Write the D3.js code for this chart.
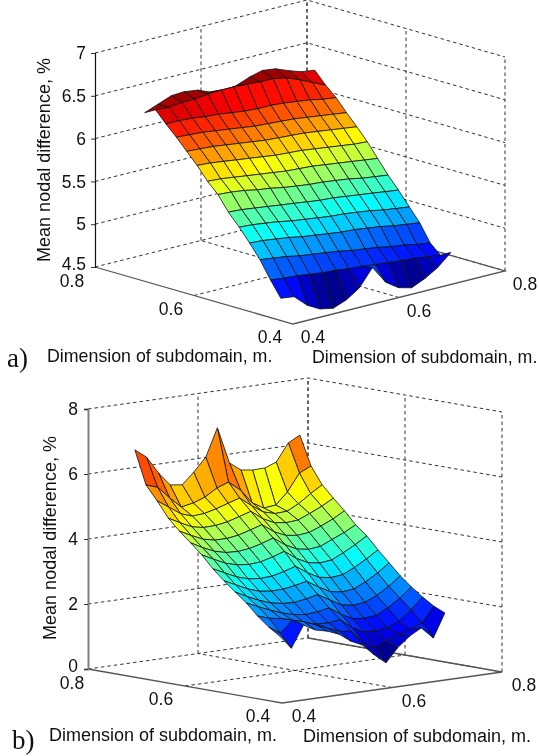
<!DOCTYPE html>
<html>
<head>
<meta charset="utf-8">
<script src="https://cdn.jsdelivr.net/npm/d3@7"></script>
<style>
  body { margin: 0; background: #fff; }
  svg { display: block; font-family: "Liberation Sans", Arial, sans-serif; fill: #111; filter: blur(0.3px); }
</style>
</head>
<body>
<svg id="chart" width="539" height="756"></svg>
<script>
// subdomain sizes along the two floor axes, panel a
var uA = [.460,.481,.502,.523,.544,.566,.587,.608,.629,.650,.671,.692,.713,.735];
var vA = [.433,.458,.483,.507,.532,.557,.581,.606,.631,.655,.680,.705,.729,.754];
// mean nodal difference, one row per uA value
var zA = [
  [4.65,4.63,4.49,4.41,4.38,4.44,4.54,4.74,4.53,4.43,4.39,4.46,4.55,4.69],
  [4.83,4.81,4.80,4.78,4.76,4.75,4.73,4.72,4.70,4.69,4.67,4.66,4.64,4.62],
  [5.03,5.01,4.99,4.96,4.94,4.92,4.90,4.87,4.85,4.83,4.80,4.78,4.75,4.73],
  [5.19,5.18,5.16,5.14,5.11,5.09,5.07,5.05,5.04,5.02,5.00,4.97,4.95,4.93],
  [5.34,5.33,5.31,5.29,5.26,5.24,5.22,5.20,5.19,5.17,5.15,5.12,5.10,5.08],
  [5.48,5.47,5.45,5.43,5.41,5.39,5.37,5.35,5.34,5.32,5.30,5.28,5.26,5.24],
  [5.65,5.64,5.62,5.59,5.57,5.54,5.52,5.50,5.49,5.47,5.45,5.42,5.40,5.38],
  [5.77,5.76,5.74,5.72,5.70,5.68,5.66,5.65,5.64,5.62,5.60,5.58,5.56,5.54],
  [5.92,5.91,5.89,5.87,5.85,5.83,5.81,5.80,5.79,5.77,5.75,5.73,5.71,5.70],
  [6.05,6.04,6.03,6.01,5.99,5.97,5.95,5.94,5.93,5.92,5.90,5.88,5.86,5.84],
  [6.18,6.17,6.16,6.14,6.12,6.10,6.08,6.07,6.06,6.05,6.03,6.01,5.99,5.97],
  [6.30,6.30,6.29,6.27,6.26,6.24,6.22,6.21,6.21,6.20,6.18,6.16,6.13,6.11],
  [6.43,6.42,6.44,6.44,6.46,6.47,6.47,6.46,6.45,6.45,6.42,6.36,6.29,6.22],
  [6.36,6.42,6.48,6.49,6.47,6.41,6.38,6.41,6.47,6.51,6.49,6.43,6.38,6.36]
];
var zTicksA = [4.5, 5, 5.5, 6, 6.5, 7];

// panel b
var uB = [.452,.475,.498,.521,.544,.567,.590,.613,.636,.659,.682,.705,.728,.751];
var vB = [.442,.463,.485,.506,.528,.549,.571,.592,.614,.635,.656,.678,.699,.721,.742];
var zB = [
  [1.82,1.40,2.06,1.86,1.77,1.63,1.36,1.19,0.83,0.54,0.95,1.26,1.46,1.10,1.82],
  [2.04,1.80,2.15,2.05,1.90,1.75,1.60,1.55,1.15,0.95,1.10,1.25,1.35,1.50,1.97],
  [2.32,2.20,2.14,2.02,1.90,1.82,1.80,1.85,1.55,1.38,1.35,1.40,1.55,1.85,2.19],
  [2.66,2.50,2.34,2.20,2.10,2.05,2.08,2.15,1.90,1.72,1.68,1.72,1.90,2.15,2.44],
  [2.94,2.75,2.58,2.45,2.38,2.36,2.42,2.50,2.28,2.08,2.02,2.06,2.22,2.45,2.72],
  [3.22,3.05,2.87,2.75,2.70,2.71,2.77,2.85,2.62,2.43,2.37,2.41,2.58,2.80,3.06],
  [3.53,3.36,3.18,3.07,3.03,3.05,3.14,3.25,3.00,2.81,2.75,2.79,2.96,3.17,3.40],
  [3.90,3.72,3.54,3.44,3.40,3.43,3.53,3.65,3.38,3.20,3.14,3.18,3.35,3.55,3.77],
  [4.21,4.02,3.85,3.76,3.74,3.78,3.88,4.00,3.74,3.56,3.50,3.54,3.70,3.86,4.05],
  [4.51,4.33,4.16,4.08,4.08,4.13,4.24,4.35,4.08,3.92,3.87,3.91,4.05,4.22,4.42],
  [4.85,4.66,4.48,4.41,4.42,4.48,4.59,4.70,4.42,4.25,4.20,4.23,4.38,4.55,4.75],
  [5.32,5.08,4.82,4.70,4.73,4.82,4.94,5.05,4.76,4.52,4.42,4.44,4.62,4.88,5.10],
  [5.75,5.63,5.25,4.92,4.99,5.12,5.35,5.48,5.18,4.74,4.53,4.57,4.92,5.45,5.62],
  [6.77,6.50,5.96,5.54,5.49,5.83,6.24,7.09,5.96,5.69,5.64,5.65,5.78,6.32,6.51]
];
var zTicksB = [0, 2, 4, 6, 8];

var floorTicks = [0.4, 0.6, 0.8];
var zTitle = "Mean nodal difference, %";
var floorTitle = "Dimension of subdomain, m.";

var svg = d3.select("#chart");

// matlab jet
var jet = d3.scaleLinear()
  .domain([0, .11, .365, .62, .87, 1])
  .range(["#00008f", "#0000ff", "#00ffff", "#ffff00", "#ff0000", "#800000"]);

function drawPanel(p) {
  var g = svg.append("g");

  // the box is an oblique view: each axis gets its own pixel scale
  var uX = d3.scaleLinear().domain([.4, .8]).range([0, p.left[0] - p.front[0]]);
  var uY = d3.scaleLinear().domain([.4, .8]).range([0, p.left[1] - p.front[1]]);
  var vX = d3.scaleLinear().domain([.4, .8]).range([0, p.right[0] - p.front[0]]);
  var vY = d3.scaleLinear().domain([.4, .8]).range([0, p.right[1] - p.front[1]]);
  var zY = d3.scaleLinear().domain(p.zDomain).range([0, -p.height]);

  var zMin = p.zDomain[0], zMax = p.zDomain[1];
  var project = function(u, v, z) {
    return [p.front[0] + uX(u) + vX(v), p.front[1] + uY(u) + vY(v) + zY(z)];
  };
  var line = d3.line();

  // dashed walls and floor grid
  var grid = [];
  p.zTicks.forEach(function(t) {
    grid.push([project(.8, .4, t), project(.8, .8, t), project(.4, .8, t)]);
  });
  floorTicks.slice(1).forEach(function(t) {
    grid.push([project(.8, t, zMin), project(.8, t, zMax)]);
    grid.push([project(t, .8, zMin), project(t, .8, zMax)]);
  });
  grid.push([project(.4, .8, zMin), project(.4, .8, zMax)]);
  grid.push([project(.6, .4, zMin), project(.6, .8, zMin)]);
  grid.push([project(.4, .6, zMin), project(.8, .6, zMin)]);
  g.selectAll("path.grid").data(grid).join("path")
    .attr("class", "grid")
    .attr("d", line)
    .attr("fill", "none")
    .attr("stroke", "#333")
    .attr("stroke-width", 1)
    .attr("stroke-dasharray", "3.5,3");

  // solid box edges
  g.append("path")
    .attr("d", line([project(.8, .4, zMin), project(.4, .4, zMin), project(.4, .8, zMin), project(.8, .8, zMin)]))
    .attr("fill", "none")
    .attr("stroke", "#555")
    .attr("stroke-width", 1.3);

  // surface, far cells first
  var zData = p.z, cells = [];
  d3.range(p.u.length - 1).forEach(function(i) {
    d3.range(p.v.length - 1).forEach(function(j) {
      cells.push({i: i, j: j});
    });
  });
  cells.sort(function(a, b) { return d3.descending(a.i + a.j, b.i + b.j); });
  var cExtent = d3.extent(zData.flat());
  var tone = d3.scaleLinear().domain(cExtent).range([0, 1]);

  g.selectAll("path.cell").data(cells).join("path")
    .attr("class", "cell")
    .attr("d", function(d) {
      var c = [[d.i, d.j], [d.i + 1, d.j], [d.i + 1, d.j + 1], [d.i, d.j + 1]];
      return line(c.map(function(n) { return project(p.u[n[0]], p.v[n[1]], zData[n[0]][n[1]]); })) + "Z";
    })
    .attr("fill", function(d) { return jet(tone(zData[d.i][d.j])); })
    .attr("stroke", "#111")
    .attr("stroke-width", 0.8)
    .attr("stroke-linejoin", "round");

  // z axis
  var zAbs = d3.scaleLinear().domain(p.zDomain).range([p.left[1], p.left[1] - p.height]);
  var axis = g.append("g")
    .attr("transform", "translate(" + p.left[0] + ",0)")
    .call(d3.axisLeft(zAbs).tickValues(p.zTicks).tickSize(4).tickPadding(p.zPad).tickFormat(d3.format("")));
  axis.selectAll("text").attr("font-size", 17.5).attr("font-family", "Liberation Sans").attr("fill", "#111");
  // lowest label sits a little above its tick, clear of the 0.8 below it
  axis.selectAll("text").filter(function(d) { return d === zMin; }).attr("y", -3);
  axis.select(".domain").attr("stroke", p.axisColor).attr("stroke-width", p.axisWidth);
  axis.selectAll(".tick line").attr("stroke", "#333");

  // floor tick labels, placed from the same projection
  floorTicks.forEach(function(t, k) {
    var a = project(t, .4, zMin), b = project(.4, t, zMin);
    g.append("text").attr("x", a[0] + p.uLabel[k]).attr("y", a[1] + 19 + (t === .8 ? 1 : 0))
      .attr("text-anchor", "middle").attr("font-size", 17.5).text(d3.format(".1f")(t));
    g.append("text").attr("x", b[0] + p.vLabel).attr("y", b[1] + 19)
      .attr("text-anchor", "middle").attr("font-size", 17.5).text(d3.format(".1f")(t));
  });

  g.append("text")
    .attr("transform", "translate(" + p.zTitle[0] + "," + p.zTitle[1] + ") rotate(-90)")
    .attr("text-anchor", "middle").attr("font-size", 18).text(zTitle);
  g.append("text").attr("x", p.title1[0]).attr("y", p.title1[1]).attr("font-size", p.titleSize).text(floorTitle);
  g.append("text").attr("x", p.title2[0]).attr("y", p.title2[1]).attr("font-size", p.titleSize).text(floorTitle);
  g.append("text").attr("x", p.tag[0]).attr("y", p.tag[1])
    .attr("font-family", "Liberation Serif").attr("font-size", 27).text(p.tagText);
}

drawPanel({
  u: uA, v: vA, z: zA, zTicks: zTicksA, zDomain: [4.5, 7],
  front: [293, 324], left: [95, 267], right: [505, 271], height: 214,
  axisColor: "#111", axisWidth: 1.2, zPad: 5,
  uLabel: [-23, -23, -23], vLabel: 20,
  zTitle: [50, 160], titleSize: 17.8, title1: [47, 362], title2: [312, 363], tag: [7, 367], tagText: "a)"
});

drawPanel({
  u: uB, v: vB, z: zB, zTicks: zTicksB, zDomain: [0, 8],
  front: [282, 703], left: [88, 669], right: [502, 672], height: 260,
  axisColor: "#808080", axisWidth: 2, zPad: 6,
  uLabel: [-24, -24, -16], vLabel: 22,
  zTitle: [56, 538], titleSize: 18, title1: [49, 741], title2: [303, 742], tag: [12, 749], tagText: "b)"
});
</script>
</body>
</html>
